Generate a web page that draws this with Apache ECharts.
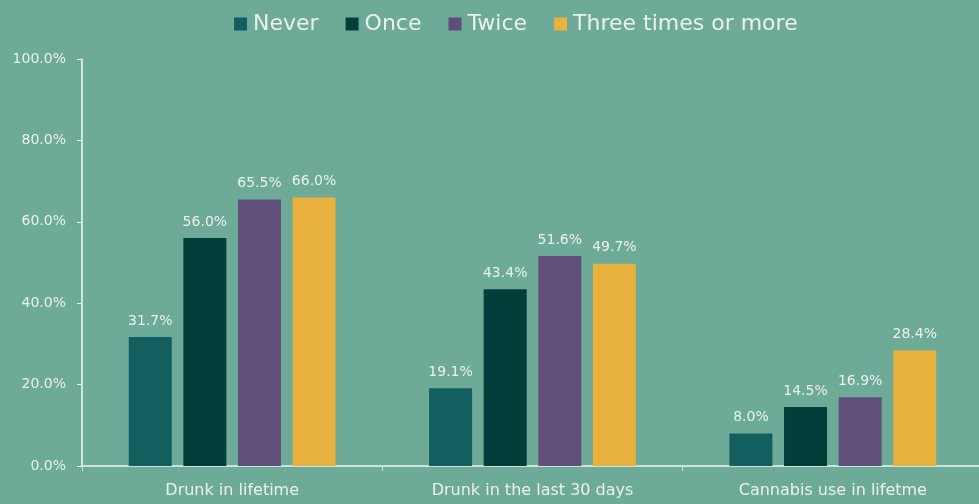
<!DOCTYPE html>
<html><head><meta charset="utf-8">
<script src="https://cdn.jsdelivr.net/npm/echarts@6/dist/echarts.min.js"></script>
<style>html,body{margin:0;padding:0;background:#6DAA97;}#c{width:979px;height:504px;}</style>
</head><body><div id="c"></div>
<script>
const categories = ["Drunk in lifetime", "Drunk in the last 30 days", "Cannabis use in lifetme"];
const seriesNames = ["Never", "Once", "Twice", "Three times or more"];
const never = [31.7, 19.1, 8.0];
const once = [56.0, 43.4, 14.5];
const twice = [65.5, 51.6, 16.9];
const threePlus = [66.0, 49.7, 28.4];
const colors = ["#135F60", "#023F3B", "#604F7A", "#E9B13E"];
const values = [never, once, twice, threePlus];
const txt = "#EAF2EE";
const font = "DejaVu Sans";
const chart = echarts.init(document.getElementById('c'));
chart.setOption({
  backgroundColor: "#6DAA97",
  animation: false,
  textStyle: { fontFamily: font },
  legend: {
    top: 8, left: 229,
    itemWidth: 13, itemHeight: 13, itemGap: 27,
    icon: "rect",
    textStyle: { color: txt, fontSize: 22, fontFamily: font, padding: [0,0,0,1] },
    data: seriesNames
  },
  grid: { left: 82, top: 59, width: 901, height: 407, outerBoundsMode: 'none', containLabel: false },
  xAxis: {
    type: "category", data: categories,
    axisLine: { lineStyle: { color: "#CFE1DA", width: 2 } },
    axisTick: { show: true, length: 5, lineStyle: { color: "#CFE1DA" } },
    axisLabel: { color: txt, fontSize: 16, margin: 17, fontFamily: font }
  },
  yAxis: {
    type: "value", min: 0, max: 100, interval: 20,
    axisLine: { show: true, lineStyle: { color: "#F4F8F6", width: 1.5 } },
    axisTick: { show: true, length: 5, lineStyle: { color: "#F4F8F6" } },
    splitLine: { show: false },
    axisLabel: { color: txt, fontSize: 14, margin: 16, fontFamily: font,
      formatter: v => v.toFixed(1) + "%" }
  },
  series: seriesNames.map((n, i) => ({
    name: n, type: "bar", data: values[i],
    barWidth: 43, barGap: "27%",
    itemStyle: { color: colors[i] },
    label: { show: true, position: "top", distance: 9, color: txt, fontSize: 14, fontFamily: font,
      formatter: p => p.value.toFixed(1) + "%" }
  }))
});
</script></body></html>
